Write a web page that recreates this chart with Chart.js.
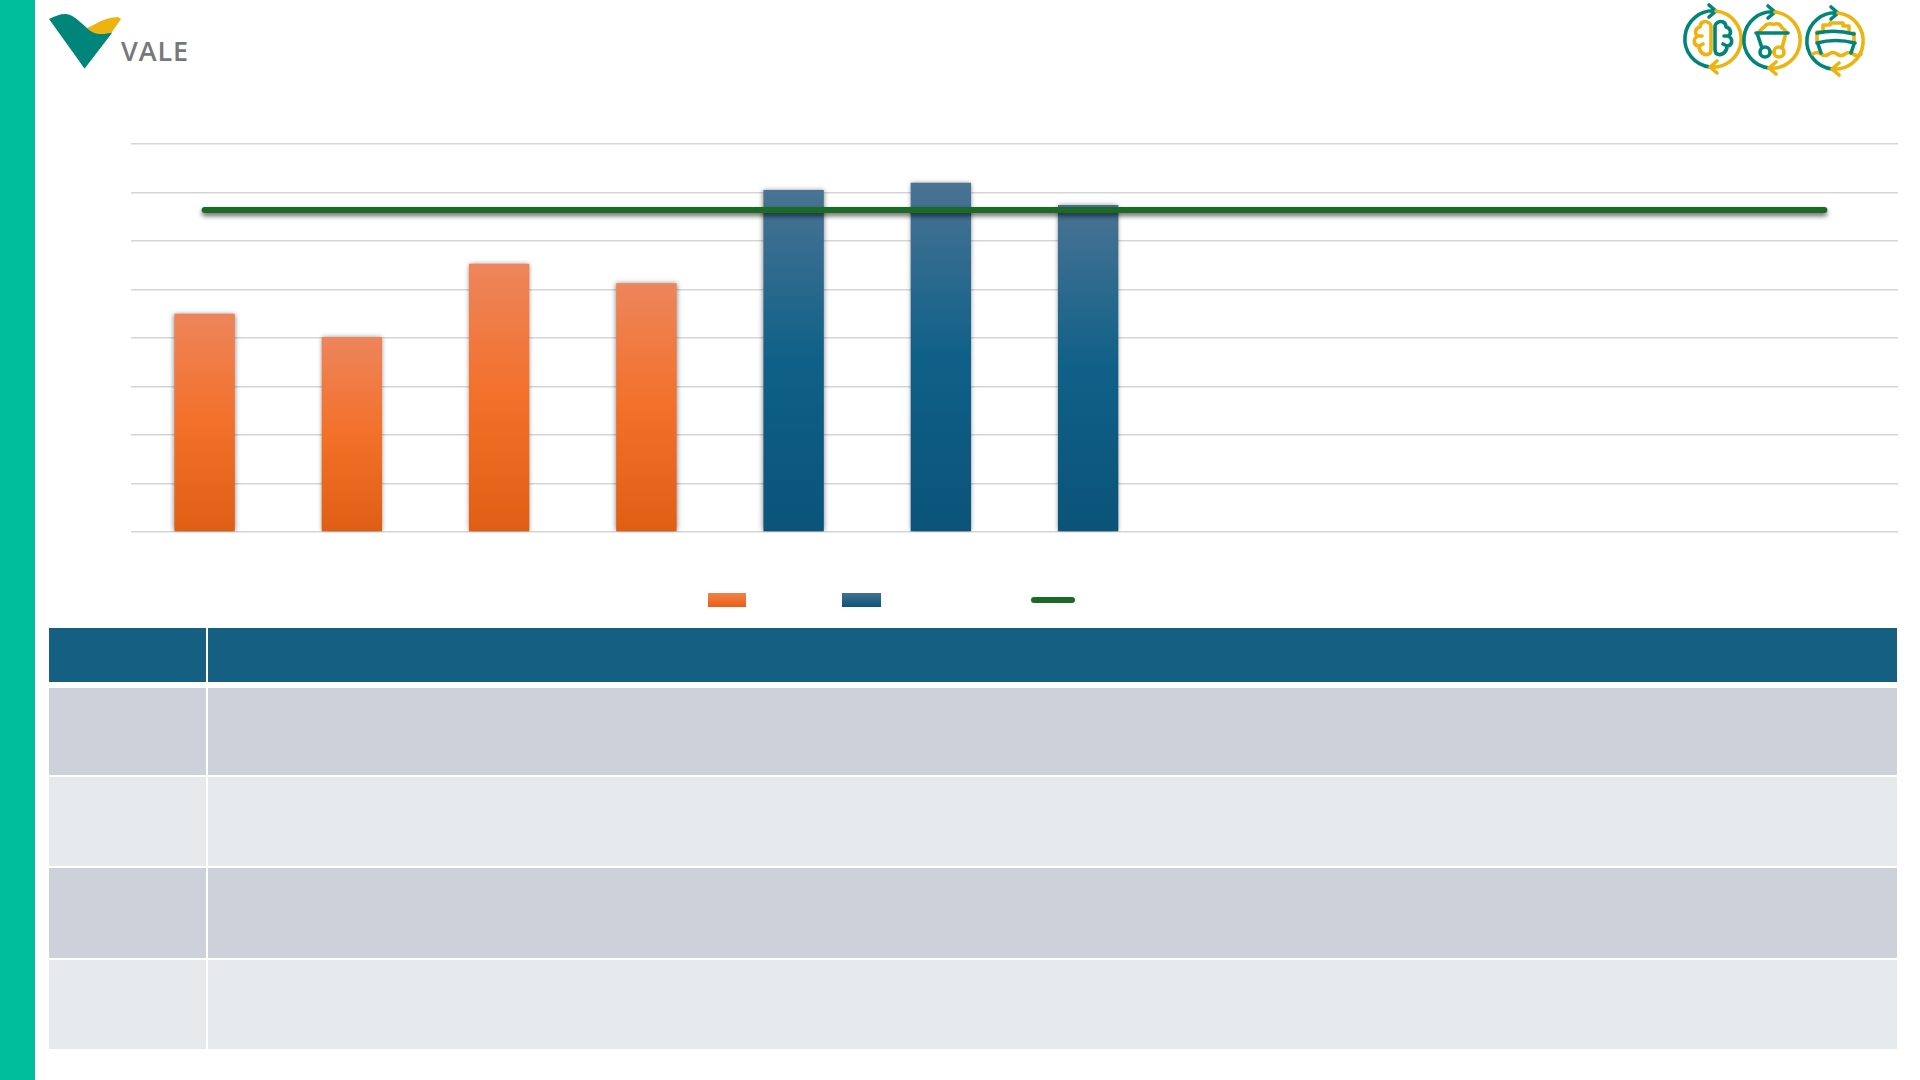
<!DOCTYPE html>
<html>
<head>
<meta charset="utf-8">
<title>Vale</title>
<script src="https://cdn.jsdelivr.net/npm/chart.js@4"></script>
<style>
    html, body { margin: 0; padding: 0; background: #fff; overflow: hidden; }
    #page { position: relative; width: 1920px; height: 1080px; }
    #page div, #page svg, #chartBox { position: absolute; }
    #sidebar { left: 0; top: 0; width: 35px; height: 1080px; background: #00BE9C; }
    #chartBox { left: 131px; top: 134px; width: 1767px; height: 410px; }
    .swatch { top: 593px; height: 14px; }
    .cell { background: #CDD1D9; }
    .cell.light { background: #E6EAED; }
    .cell.head { background: #156082; }
</style>
</head>
<body>
<div id="page">
    <div id="sidebar"></div>

    <!-- logo -->
    <svg style="left:0;top:0" width="220" height="80" viewBox="0 0 220 80">
        <path d="M49 19 C55 16 60 14 65 14 C72 14 78 20 87 28 C92 33 103 35 112 32 L84.5 68.5 Z" fill="#00857A"/>
        <path d="M112 33 L84.5 68.5 L70 45 L87 28 C92 33 103 35 112 33 Z" fill="#00857A"/>
        <path d="M87 28 C93 26 104 17 118 17 L121 19 L112 32 C102 36 92 34 87 28 Z" fill="#EFB310"/>
        <text x="121" y="61" font-family="Open Sans" font-size="27" font-weight="600" fill="#77787B" textLength="67">VALE</text>
    </svg>

    <!-- top right icons -->
    <svg style="left:1660px;top:0" width="260" height="80" viewBox="1660 0 260 80" fill="none" stroke-width="3.6" stroke-linecap="round" stroke-linejoin="round">
        <defs>
            <g id="cycle">
                <path d="M-3 28 A28 28 0 0 1 3 -28 M-4 -34 L3 -28 L-4 -22" stroke="#00857A"/>
                <path d="M3 -28 A28 28 0 0 1 -3 28 M4 22 L-3 28 L4 34" stroke="#EFB310"/>
            </g>
        </defs>
        <g transform="translate(1713 39)">
            <use href="#cycle"/>
            <path d="M-4 -16 C-8 -19 -13 -17 -13 -12 C-18 -11 -19 -5 -15 -3 C-21 0 -19 7 -14 7 C-14 13 -9 17 -4 15 C-2 14 -2 12 -2 10 L-2 -12 C-2 -14 -2 -15 -4 -16 Z M-16 -3 L-11 -3 M-14 7 L-10 5" stroke="#EFB310"/>
            <path d="M4 -16 C8 -19 13 -17 13 -12 C18 -11 19 -5 15 -3 C21 0 19 7 14 7 C14 13 9 17 4 15 C2 14 2 12 2 10 L2 -12 C2 -14 2 -15 4 -16 Z M16 -3 L11 -3 M14 7 L10 5" stroke="#00857A"/>
        </g>
        <g transform="translate(1772 40)">
            <use href="#cycle"/>
            <path d="M-13 -8 C-10 -12 -8 -12 -6 -15 C-2 -18 0 -15 3 -16 C7 -17 9 -14 10 -12 C12 -11 13 -10 14 -8 M14 -7 L10 8 M-2 12 L2 12" stroke="#EFB310"/>
            <path d="M-16 -7 L16 -7 M-15 -7 L-10 8" stroke="#00857A"/>
            <circle cx="-7" cy="12" r="5" stroke="#00857A"/>
            <circle cx="7" cy="12" r="5" stroke="#EFB310"/>
        </g>
        <g transform="translate(1835 41)">
            <use href="#cycle"/>
            <path d="M-18 0 L-18 -9 L-12 -9 L-12 -16 L-5 -16 L-5 -18 L8 -18 L8 -15 L14 -15 L14 -9 M19 -8 L19 1 M-22 13 q4 -3 8 0 t8 0 t8 0 t8 0 t8 0 t8 0" stroke="#EFB310"/>
            <path d="M-18 -8 Q0 -12 19 -7 M-18 2 Q0 -3 20 2 M-17 3 L-14 12 M19 3 L16 12" stroke="#00857A"/>
        </g>
    </svg>

    <div id="chartBox"><canvas id="salesChart" width="1767" height="410"></canvas></div>

    <!-- legend, the reference has no legend text -->
    <div class="swatch" style="left:708px;width:38px;background:linear-gradient(#F38249,#E85F17)"></div>
    <div class="swatch" style="left:842px;width:39px;background:linear-gradient(#44728F,#0A5379)"></div>
    <div style="left:1031px;top:597px;width:44px;height:6px;border-radius:3px;background:#1B6B27"></div>

    <!-- table -->
    <div class="cell head" style="left:49px;top:628px;width:157px;height:54px"></div>
    <div class="cell head" style="left:208px;top:628px;width:1689px;height:54px"></div>
    <div class="cell" style="left:49px;top:688px;width:157px;height:87px"></div>
    <div class="cell" style="left:208px;top:688px;width:1689px;height:87px"></div>
    <div class="cell light" style="left:49px;top:777px;width:157px;height:89px"></div>
    <div class="cell light" style="left:208px;top:777px;width:1689px;height:89px"></div>
    <div class="cell" style="left:49px;top:868px;width:157px;height:90px"></div>
    <div class="cell" style="left:208px;top:868px;width:1689px;height:90px"></div>
    <div class="cell light" style="left:49px;top:960px;width:157px;height:89px"></div>
    <div class="cell light" style="left:208px;top:960px;width:1689px;height:89px"></div>
</div>

<script>
// Values, the axis has no visible labels
const categories = ['Jan', 'Fev', 'Mar', 'Abr', 'Mai', 'Jun', 'Jul', 'Ago', 'Set', 'Out', 'Nov', 'Dez'];
const orangeValues = [4.50, 4.02, 5.53, 5.13, null, null, null, null, null, null, null, null];
const blueValues = [null, null, null, null, 7.05, 7.20, 6.74, null, null, null, null, null];
const targetValues = [6.64, 6.64, 6.64, 6.64, 6.64, 6.64, 6.64, 6.64, 6.64, 6.64, 6.64, 6.64];

// Gradient runs from the top of each bar to the axis
const barGradient = (stops) => (context) => {
    const chart = context.chart;
    if (!chart.chartArea || !context.parsed || context.parsed.y == null) {
        return stops[1];
    }
    const top = chart.scales.y.getPixelForValue(context.parsed.y);
    const gradient = chart.ctx.createLinearGradient(0, top, 0, chart.chartArea.bottom);
    gradient.addColorStop(0, stops[0]);
    gradient.addColorStop(0.5, stops[1]);
    gradient.addColorStop(1, stops[2]);
    return gradient;
};

// Soft shadow under the bars and the line
const shadowPlugin = {
    id: 'shadow',
    beforeDatasetDraw(chart, args) {
        const ctx = chart.ctx;
        ctx.save();
        if (args.index === 2) {
            ctx.shadowColor = 'rgba(0,0,0,0.6)';
            ctx.shadowBlur = 5;
            ctx.shadowOffsetY = 3;
        } else {
            ctx.shadowColor = 'rgba(0,0,0,0.5)';
            ctx.shadowBlur = 5;
        }
    },
    afterDatasetDraw(chart) {
        chart.ctx.restore();
    }
};

const ctx = document.getElementById('salesChart').getContext('2d');
new Chart(ctx, {
    type: 'bar',
    data: {
        labels: categories,
        datasets: [
            {
                data: orangeValues,
                backgroundColor: barGradient(['#EE855B', '#F3702A', '#E05E14']),
                grouped: false,
                barPercentage: 0.41,
                categoryPercentage: 1,
                order: 2
            },
            {
                data: blueValues,
                backgroundColor: barGradient(['#4A7393', '#0F6088', '#0B5379']),
                grouped: false,
                barPercentage: 0.41,
                categoryPercentage: 1,
                order: 2
            },
            {
                type: 'line',
                data: targetValues,
                borderColor: '#1B6B27',
                borderWidth: 6,
                borderCapStyle: 'round',
                pointRadius: 0,
                order: 1
            }
        ]
    },
    options: {
        responsive: false,
        animation: false,
        layout: { padding: { top: 10, bottom: 12 } },
        plugins: {
            legend: { display: false },
            tooltip: { enabled: false }
        },
        scales: {
            x: {
                grid: { display: false, drawTicks: false },
                border: { display: false },
                ticks: { display: false }
            },
            y: {
                min: 0,
                max: 8,
                grid: { color: '#D5D5D5', lineWidth: 1.5, drawTicks: false },
                border: { display: false },
                ticks: { display: false, stepSize: 1 }
            }
        }
    },
    plugins: [shadowPlugin]
});
</script>
</body>
</html>
